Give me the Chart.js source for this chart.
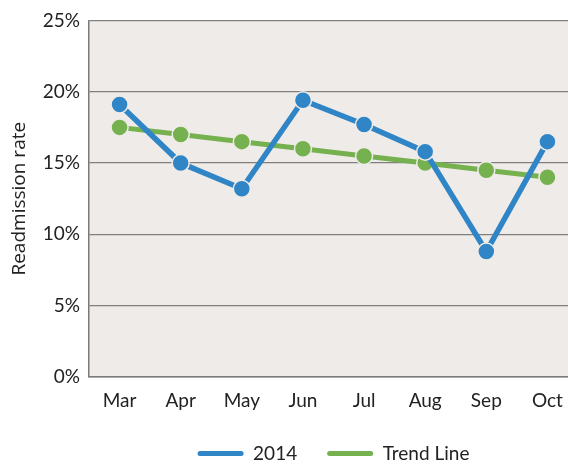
<!DOCTYPE html>
<html>
<head>
<meta charset="utf-8">
<script src="https://cdn.jsdelivr.net/npm/chart.js@4"></script>
<style>
  html, body { margin: 0; padding: 0; background: #fff; overflow: hidden; width: 568px; height: 464px; }
  canvas { display: block; }
</style>
</head>
<body>
<canvas id="c" width="588" height="464" style="width:588px;height:464px"></canvas>
<script>
const categories = ['Mar', 'Apr', 'May', 'Jun', 'Jul', 'Aug', 'Sep', 'Oct'];
const series2014 = [19.1, 15.0, 13.2, 19.4, 17.7, 15.8, 8.8, 16.5];
const trendLine = [17.5, 17.0, 16.5, 16.0, 15.5, 15.0, 14.5, 14.0];
const yTicks = [0, 5, 10, 15, 20, 25];

const BLUE = '#2F85C6';
const GREEN = '#76B14F';
const PLOT_BG = '#EFEBE8';
const TICK_FONT = { family: 'Lato', size: 19 };

const bgPlugin = {
  id: 'plotBg',
  beforeDraw(chart) {
    const { ctx, chartArea: a } = chart;
    ctx.save();
    ctx.fillStyle = PLOT_BG;
    ctx.fillRect(a.left, a.top, a.right - a.left, a.bottom - a.top);
    ctx.restore();
  }
};

new Chart(document.getElementById('c'), {
  type: 'line',
  data: {
    labels: categories,
    datasets: [
      {
        label: '2014',
        data: series2014,
        borderColor: BLUE,
        backgroundColor: BLUE,
        borderWidth: 5.5,
        pointRadius: 8.5,
        pointBorderWidth: 1.5,
        pointBorderColor: PLOT_BG,
        pointBackgroundColor: BLUE,
        tension: 0
      },
      {
        label: 'Trend Line',
        data: trendLine,
        borderColor: GREEN,
        backgroundColor: GREEN,
        borderWidth: 5,
        pointRadius: 8.5,
        pointBorderWidth: 1.5,
        pointBorderColor: PLOT_BG,
        pointBackgroundColor: GREEN,
        tension: 0
      }
    ]
  },
  options: {
    responsive: false,
    animation: false,
    layout: { padding: { top: 18, left: 0, right: 0, bottom: -9 } },
    plugins: {
      tooltip: { enabled: false },
      legend: {
        position: 'bottom',
        fullSize: false,
        labels: {
          font: TICK_FONT,
          color: '#222',
          boxWidth: 46,
          boxHeight: 5,
          padding: 30,
          useBorderRadius: true,
          borderRadius: 2.5,
          generateLabels(chart) {
            return chart.data.datasets.map((ds, i) => ({
              text: ds.label,
              fillStyle: ds.borderColor,
              strokeStyle: ds.borderColor,
              lineWidth: 0,
              borderRadius: 2.5,
              hidden: false,
              datasetIndex: i,
              fontColor: '#222'
            }));
          }
        }
      }
    },
    scales: {
      x: {
        offset: true,
        grid: { display: false, drawTicks: false },
        border: { display: true, color: '#7a7a7a', width: 1.5 },
        ticks: { font: TICK_FONT, color: '#222', padding: 12, maxRotation: 0 },
        afterFit(scale) { scale.height = 37; }
      },
      y: {
        min: 0,
        max: 25,
        afterBuildTicks(scale) { scale.ticks = yTicks.map(v => ({ value: v })); },
        grid: { color: '#7f7f7f', lineWidth: 1.2, drawTicks: false },
        border: { display: true, color: '#7a7a7a', width: 1.5 },
        ticks: {
          font: TICK_FONT,
          color: '#222',
          padding: 9,
          callback: v => v + '%'
        },
        title: {
          display: true,
          text: 'Readmission rate',
          font: { family: 'Open Sans', size: 19 },
          color: '#222',
          padding: { top: 8, bottom: 0 }
        },
        afterFit(scale) { scale.width = 89; }
      }
    }
  },
  plugins: [bgPlugin]
});
</script>
</body>
</html>
